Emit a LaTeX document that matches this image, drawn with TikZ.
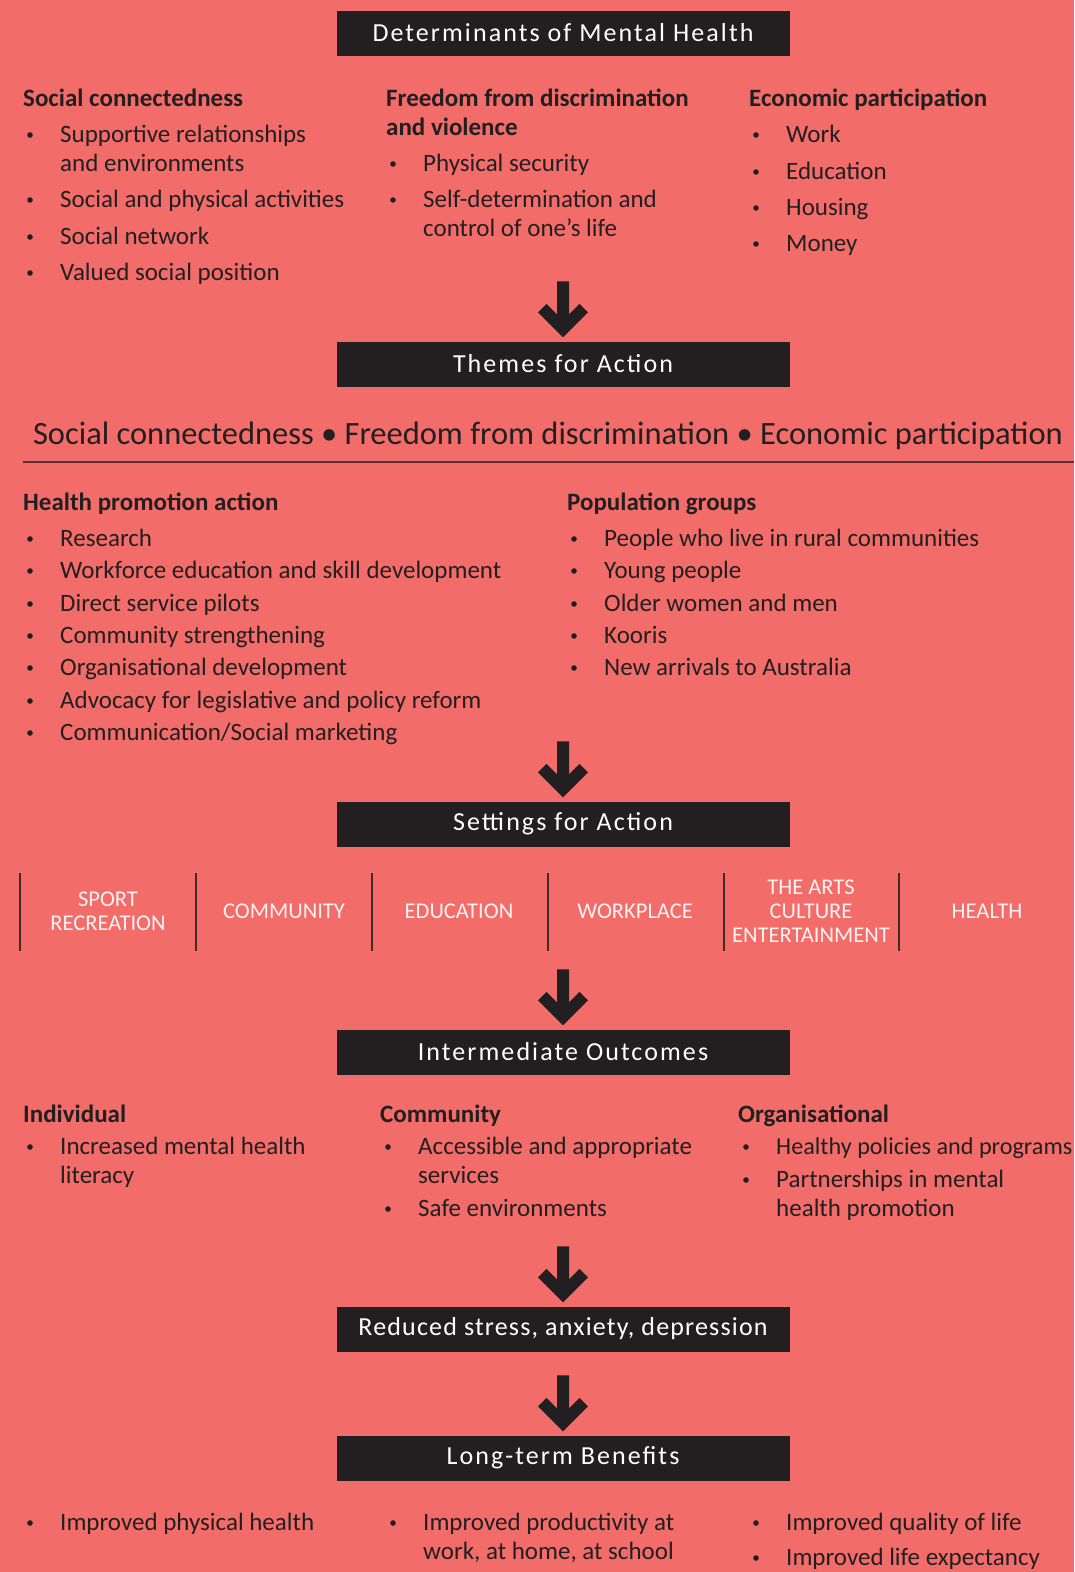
\documentclass[tikz,border=0pt]{standalone}
\usepackage{fontspec}
\setmainfont{Carlito}
\usetikzlibrary{positioning}

\definecolor{bgred}{HTML}{F26C6A}
\definecolor{ink}{HTML}{231F20}
\definecolor{pale}{HTML}{FFF2F0}

% lines stacked under the first baseline
\newcommand{\stack}[1]{\begin{tabular}[t]{@{}l@{}}#1\end{tabular}}
% one bullet line: name, x, baseline y, text
\newcommand{\bitem}[4]{%
  \node[txt] (#1) at (#2,#3) {\stack{#4}};
  \fill[ink] ([xshift=-30pt,yshift=7pt]#1.base west) circle (2.8pt);}

\tikzset{
  headbox/.style={fill=ink, text=white, minimum width=453pt, minimum height=45pt,
    inner sep=0pt, font=\fontsize{26}{30}\selectfont\addfontfeatures{LetterSpace=8}},
  txt/.style={anchor=base west, inner sep=0pt, text=ink,
    font=\fontsize{25}{29}\selectfont},
  colhead/.style={txt, font=\fontsize{25}{29}\selectfont\bfseries},
  setlabel/.style={align=center, text=pale, inner sep=0pt,
    font=\fontsize{22.5}{24}\selectfont},
  bigarrow/.pic={\fill[ink] (0,0) -- (-25,-25) -- (-16.5,-33.5) -- (-6,-23) -- (-6,-56)
    -- (6,-56) -- (6,-23) -- (16.5,-33.5) -- (25,-25) -- cycle;},
}

\begin{document}
\begin{tikzpicture}[x=1pt, y=-1pt]
  \fill[bgred] (0,0) rectangle (1074,1572);
  \useasboundingbox (0,0) rectangle (1074,1572);

  % determinants
  \node[headbox] (detbox) at (563,33) {Determinants of Mental Health};
  \node[colhead] (sc) at (23,106) {Social connectedness};
  \bitem{sc1}{60}{142}{Supportive relationships\\and environments}
  \bitem{sc2}{60}{207}{Social and physical activities}
  \bitem{sc3}{60}{244}{Social network}
  \bitem{sc4}{60}{280}{Valued social position}
  \node[colhead] (fd) at (386,106) {\stack{Freedom from discrimination\\and violence}};
  \bitem{fd1}{423}{171}{Physical security}
  \bitem{fd2}{423}{207}{Self-determination and\\control of one's life}
  \node[colhead] (ep) at (749,106) {Economic participation};
  \bitem{ep1}{786}{142}{Work}
  \bitem{ep2}{786}{179}{Education}
  \bitem{ep3}{786}{215}{Housing}
  \bitem{ep4}{786}{251}{Money}

  % themes
  \node[headbox] (themebox) at (563,364) {Themes for Action};
  \pic at ([yshift=4pt]themebox.north) {bigarrow};
  \node[txt, anchor=base, font=\fontsize{32.5}{36}\selectfont] (themes) at (548,444)
    {Social connectedness \textbullet{} Freedom from discrimination \textbullet{} Economic participation};
  \draw[ink!75!bgred, line width=1.5pt] (23,462) -- (1074,462);
  \node[colhead] (hp) at (23,510) {Health promotion action};
  \bitem{hp1}{60}{546}{Research}
  \bitem{hp2}{60}{578}{Workforce education and skill development}
  \bitem{hp3}{60}{611}{Direct service pilots}
  \bitem{hp4}{60}{643}{Community strengthening}
  \bitem{hp5}{60}{675}{Organisational development}
  \bitem{hp6}{60}{708}{Advocacy for legislative and policy reform}
  \bitem{hp7}{60}{740}{Communication/Social marketing}
  \node[colhead] (pg) at (567,510) {Population groups};
  \bitem{pg1}{604}{546}{People who live in rural communities}
  \bitem{pg2}{604}{578}{Young people}
  \bitem{pg3}{604}{611}{Older women and men}
  \bitem{pg4}{604}{643}{Kooris}
  \bitem{pg5}{604}{675}{New arrivals to Australia}

  % settings
  \node[headbox] (setbox) at (563,824) {Settings for Action};
  \pic at ([yshift=4pt]setbox.north) {bigarrow};
  \foreach \x in {20,196,372,548,724,899}
    \draw[ink!85!bgred, line width=1.5pt] (\x,873) -- (\x,951);
  \node[setlabel] (sport) at (108,911) {SPORT\\RECREATION};
  \node[setlabel] (comm) at (284,911) {COMMUNITY};
  \node[setlabel] (edu) at (459,911) {EDUCATION};
  \node[setlabel] (work) at (635,911) {WORKPLACE};
  \node[setlabel] (arts) at (811,911) {THE ARTS\\CULTURE\\ENTERTAINMENT};
  \node[setlabel] (health) at (987,911) {HEALTH};

  % outcomes
  \node[headbox] (outbox) at (563,1052) {Intermediate Outcomes};
  \pic at ([yshift=4pt]outbox.north) {bigarrow};
  \node[colhead] (ind) at (23,1122) {Individual};
  \bitem{ind1}{60}{1154}{Increased mental health\\literacy}
  \node[colhead] (com) at (380,1122) {Community};
  \bitem{com1}{418}{1154}{Accessible and appropriate\\services}
  \bitem{com2}{418}{1216}{Safe environments}
  \node[colhead] (org) at (738,1122) {Organisational};
  \bitem{org1}{776}{1154}{\fontsize{24.2}{29}\selectfont Healthy policies and programs}
  \bitem{org2}{776}{1187}{Partnerships in mental\\health promotion}

  \node[headbox, font=\fontsize{26}{30}\selectfont\addfontfeatures{LetterSpace=4.5}] (stressbox) at (563,1329)
    {Reduced stress, anxiety, depression};
  \pic at ([yshift=4pt]stressbox.north) {bigarrow};

  % benefits
  \node[headbox] (benbox) at (563,1458) {Long-term Benefits};
  \pic at ([yshift=4pt]benbox.north) {bigarrow};
  \bitem{ben1}{60}{1530}{Improved physical health}
  \bitem{ben2}{423}{1530}{Improved productivity at\\work, at home, at school}
  \bitem{ben3}{786}{1530}{Improved quality of life}
  \bitem{ben4}{786}{1565}{Improved life expectancy}
\end{tikzpicture}
\end{document}
